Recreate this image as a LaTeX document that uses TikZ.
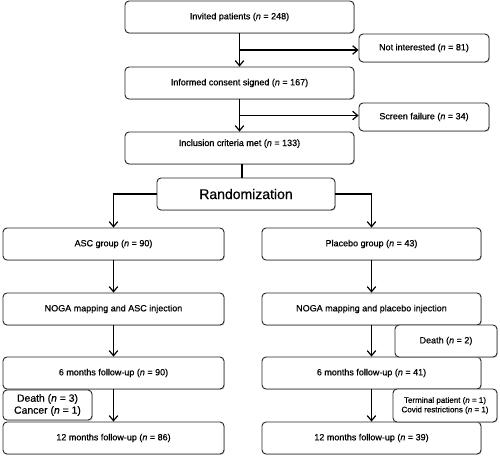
\documentclass[tikz,border=0pt]{standalone}
\usepackage{fontspec}
\setmainfont{Liberation Sans}[FakeBold=0.5, ItalicFeatures={FakeBold=0.5}]
\usetikzlibrary{arrows.meta,shadows,calc}
\begin{document}
\begin{tikzpicture}[x=1pt,y=-1pt,
  box/.style={draw=black!85, line width=0.9pt, rounded corners=4pt, fill=white,
    drop shadow={shadow xshift=0.8pt, shadow yshift=-0.8pt, fill=black!35, opacity=0.6},
    inner sep=1pt, align=center, font=\fontsize{9}{11}\selectfont},
  arr/.style={line width=1.3pt, -{Straight Barb[length=5pt,width=8.5pt,line width=1.2pt]}},
  ln/.style={line width=1.3pt}]
\useasboundingbox (0,0) rectangle (500,459);
% top column
\node[box, minimum width=229pt, minimum height=32pt] (inv) at (239.5,17) {Invited patients (\textit{n} = 248)};
\node[box, minimum width=130pt, minimum height=28pt] (notint) at (424,48) {Not interested (\textit{n} = 81)};
\node[box, minimum width=229pt, minimum height=32pt] (cons) at (239.5,83) {Informed consent signed (\textit{n} = 167)};
\node[box, minimum width=130pt, minimum height=28pt] (scr) at (424,117) {Screen failure (\textit{n} = 34)};
\node[box, minimum width=229pt, minimum height=32pt, text height=6pt, text depth=10pt] (incl) at (239.5,148) {Inclusion criteria met (\textit{n} = 133)};
\node[box, minimum width=178pt, minimum height=32pt, font=\fontsize{14}{16}\selectfont] (rand) at (246,194) {Randomization};
% left column
\node[box, minimum width=221pt, minimum height=32pt] (asc) at (113.5,244) {ASC group (\textit{n} = 90)};
\node[box, minimum width=221pt, minimum height=32pt] (noga1) at (113.5,309) {NOGA mapping and ASC injection};
\node[box, minimum width=221pt, minimum height=32pt] (six1) at (113.5,373) {6 months follow-up (\textit{n} = 90)};
\node[box, minimum width=221pt, minimum height=32pt] (twelve1) at (113.5,438) {12 months follow-up (\textit{n} = 86)};
\node[box, minimum width=89pt, minimum height=30pt, font=\fontsize{10.4}{12}\selectfont] (dc) at (47.5,405) {Death (\textit{n} = 3)\\Cancer (\textit{n} = 1)};
% right column
\node[box, minimum width=219pt, minimum height=32pt] (plc) at (371.5,244) {Placebo group (\textit{n} = 43)};
\node[box, minimum width=219pt, minimum height=32pt] (noga2) at (371.5,309) {NOGA mapping and placebo injection};
\node[box, minimum width=219pt, minimum height=32pt] (six2) at (371.5,373) {6 months follow-up (\textit{n} = 41)};
\node[box, minimum width=219pt, minimum height=32pt] (twelve2) at (371.5,438) {12 months follow-up (\textit{n} = 39)};
\node[box, minimum width=102pt, minimum height=32pt] (d2) at (446,341) {Death (\textit{n} = 2)};
\node[box, minimum width=104pt, minimum height=33pt, font=\fontsize{8}{9.5}\selectfont] (term) at (445,405.5) {Terminal patient (\textit{n} = 1)\\Covid restrictions (\textit{n} = 1)};
% connectors
\coordinate (m1) at ($(inv.south)!0.5!(cons.north)$);
\coordinate (m2) at ($(cons.south)!0.5!(incl.north)$);
\draw[arr] (inv.south) -- (cons.north);
\draw[arr] (m1) -- (m1 -| notint.west);
\draw[arr] (cons.south) -- (incl.north);
\draw[arr] (m2) -- (m2 -| scr.west);
\draw[line width=2.5pt] ([xshift=2.5pt]incl.south) -- ([xshift=2.5pt]incl.south |- rand.north);
\draw[arr] (rand.west) -| (asc.north);
\draw[arr] (rand.east) -| (plc.north);
\draw[arr] (asc.south) -- (noga1.north);
\draw[arr] (noga1.south) -- (six1.north);
\draw[arr] (six1.south) -- (twelve1.north);
\draw[arr] (plc.south) -- (noga2.north);
\draw[arr] (noga2.south) -- (six2.north);
\draw[arr] (six2.south) -- (twelve2.north);
\end{tikzpicture}
\end{document}
